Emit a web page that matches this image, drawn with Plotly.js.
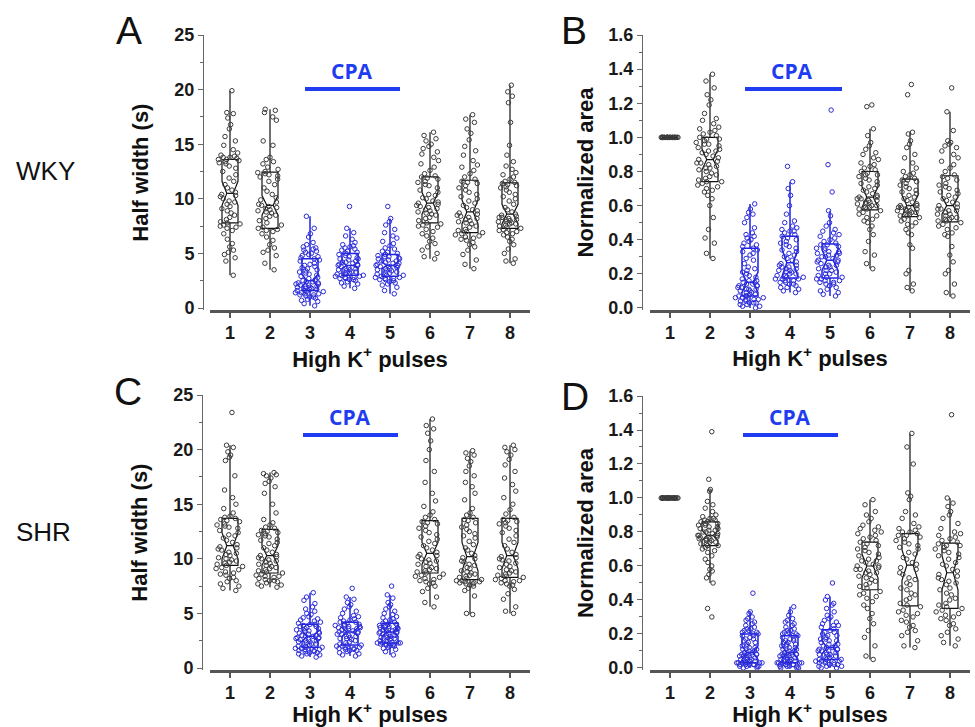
<!DOCTYPE html>
<html>
<head>
<meta charset="utf-8">
<script src="https://cdn.plot.ly/plotly-3.0.1.min.js"></script>
<style>html,body{margin:0;padding:0;background:#fff;}#chart{width:975px;height:727px;}</style>
</head>
<body>
<div id="chart"></div>
<script>
// ---------- categories / ticks ----------
const pulses = [1, 2, 3, 4, 5, 6, 7, 8];
const cpaPulses = [3, 4, 5];
const panelLetters = ['A', 'B', 'C', 'D'];
const rowLabels = ['WKY', 'SHR'];
const yTitleHalf = 'Half width (s)';
const yTitleArea = 'Normalized area';
const xTitle = 'High K<sup>+</sup> pulses';
const cpaLabel = 'CPA';

// ---------- Panel A: WKY half width (s) ----------
const A1 = [3.0,4.3,4.6,4.9,5.1,5.3,5.6,5.9,6.3,6.8,7.1,7.3,7.4,7.5,7.6,7.7,
  7.8,7.9,8.1,8.3,8.5,8.7,8.9,9.1,9.3,9.5,9.7,9.8,10.0,10.2,10.3,10.4,
  10.6,10.8,11.0,11.3,11.6,11.9,12.2,12.5,12.8,13.0,13.2,13.3,13.4,13.5,13.6,13.6,
  13.7,13.8,13.8,13.9,14.0,14.2,14.5,14.9,15.3,15.7,16.4,16.8,17.4,17.8,17.9,19.9];
const A2 = [3.5,4.1,4.8,5.1,5.3,5.5,5.8,6.2,6.5,6.8,7.0,7.1,7.2,7.3,
  7.4,7.6,7.8,8.0,8.2,8.4,8.5,8.7,8.8,8.9,9.0,9.1,9.2,9.3,9.4,
  9.5,9.7,9.9,10.1,10.4,10.7,11.0,11.3,11.6,11.8,12.0,12.1,12.2,12.3,12.4,
  12.5,12.7,12.9,13.2,13.4,13.6,13.8,14.9,15.3,17.2,17.5,17.9,18.1,18.2];
const A3 = [0.2,0.4,0.6,0.7,0.8,0.9,1.0,1.0,1.1,1.2,1.2,1.3,1.3,1.4,1.4,1.5,1.5,1.6,
  1.6,1.7,1.7,1.8,1.8,1.9,1.9,2.0,2.0,2.1,2.1,2.2,2.2,2.3,2.3,2.4,2.4,2.5,
  2.6,2.7,2.8,2.9,3.0,3.1,3.2,3.3,3.4,3.5,3.6,3.7,3.8,3.9,4.0,4.1,4.3,4.4,
  4.5,4.6,4.7,4.8,4.9,5.0,5.1,5.2,5.3,5.4,5.5,5.6,5.8,6.0,6.5,6.8,7.3,8.4];
const A4 = [1.8,2.0,2.2,2.3,2.4,2.5,2.6,2.6,2.7,2.7,2.8,2.8,2.9,2.9,3.0,
  3.0,3.1,3.1,3.2,3.2,3.3,3.3,3.4,3.5,3.5,3.6,3.6,3.7,3.8,3.9,
  3.9,4.0,4.0,4.1,4.2,4.2,4.3,4.4,4.5,4.5,4.6,4.7,4.8,4.9,5.0,
  5.1,5.2,5.3,5.4,5.5,5.6,5.7,5.8,6.0,6.3,6.6,6.9,7.3,9.3];
const A5 = [1.3,1.6,1.9,2.1,2.2,2.3,2.4,2.5,2.6,2.6,2.7,2.7,2.8,2.8,2.9,
  3.0,3.0,3.1,3.2,3.2,3.3,3.4,3.4,3.5,3.6,3.6,3.7,3.8,3.8,3.9,
  3.9,4.0,4.1,4.1,4.2,4.3,4.3,4.4,4.5,4.5,4.6,4.7,4.7,4.8,4.9,
  5.0,5.1,5.2,5.4,5.5,5.7,5.9,6.1,6.4,6.6,6.9,7.2,7.6,7.9,8.2,9.3];
const A6 = [4.5,4.7,5.0,5.3,5.6,5.9,6.1,6.4,6.6,6.8,7.0,7.2,7.4,7.5,7.6,7.7,
  7.8,8.0,8.2,8.3,8.5,8.6,8.7,8.8,8.9,9.0,9.1,9.2,9.3,9.4,9.5,9.6,
  9.7,9.8,10.0,10.1,10.3,10.4,10.6,10.8,11.0,11.2,11.3,11.5,11.6,11.8,11.9,12.0,
  12.1,12.3,12.6,12.9,13.2,13.5,13.8,14.1,14.3,14.6,14.8,15.0,15.3,15.5,15.8,16.1];
const A7 = [3.6,4.0,4.4,4.9,5.3,5.6,5.8,6.0,6.2,6.3,6.4,6.5,6.6,6.7,6.8,6.9,
  7.0,7.1,7.2,7.4,7.5,7.7,7.8,7.9,8.0,8.1,8.2,8.3,8.4,8.5,8.6,8.7,
  8.9,9.0,9.2,9.4,9.6,9.8,10.0,10.2,10.4,10.6,10.8,11.0,11.2,11.4,11.5,11.6,
  11.8,12.0,12.3,12.6,12.9,13.1,13.5,14.0,14.4,14.8,15.4,16.0,16.4,17.0,17.3,17.7];
const A8 = [4.1,4.3,4.5,5.0,5.4,5.8,6.1,6.3,6.5,6.7,6.8,6.9,7.0,7.1,7.2,7.3,
  7.4,7.5,7.6,7.7,7.7,7.8,7.9,7.9,8.0,8.1,8.1,8.2,8.3,8.3,8.4,8.5,
  8.6,8.8,9.0,9.2,9.5,9.8,10.0,10.2,10.4,10.6,10.8,11.0,11.1,11.2,11.3,11.4,
  11.5,11.6,11.8,12.0,12.2,12.4,12.7,13.0,13.4,14.0,14.9,17.0,18.8,19.4,19.8,20.4];
const A_q1 = [7.8, 7.3, 1.6, 3.0, 2.9, 7.8, 6.9, 7.3];
const A_med = [10.5, 9.4, 2.5, 3.9, 3.9, 9.6, 8.8, 8.6];
const A_q3 = [13.6, 12.45, 4.5, 5.0, 4.9, 12.0, 11.7, 11.45];
const A_lo = [3.0, 3.5, 0.2, 1.8, 1.3, 4.5, 3.6, 4.1];
const A_hi = [19.9, 18.2, 8.4, 7.3, 8.2, 16.1, 17.7, 20.4];
const A_notch = [1.1, 0.9, 0.6, 0.3, 0.3, 1.0, 1.1, 0.9];

// ---------- Panel B: WKY normalized area ----------
const B1 = [1,1,1,1,1,1,1,1,1,1,1,1,1,1,1,1,1,1,1,1,1,1,1,1];
const B2 = [0.29,0.32,0.38,0.41,0.46,0.53,0.60,0.64,0.66,0.68,0.69,0.70,0.71,0.72,0.73,0.74,
  0.74,0.75,0.76,0.77,0.78,0.79,0.80,0.81,0.82,0.82,0.83,0.84,0.85,0.85,0.86,0.87,
  0.88,0.89,0.90,0.91,0.92,0.92,0.93,0.94,0.95,0.96,0.96,0.97,0.98,0.99,0.99,1.00,
  1.01,1.02,1.03,1.04,1.05,1.06,1.08,1.10,1.11,1.14,1.19,1.22,1.25,1.29,1.33,1.37];
const B3 = [0.00,0.01,0.01,0.02,0.02,0.03,0.03,0.03,0.04,0.04,0.05,0.05,0.05,0.06,0.06,0.06,0.07,0.07,
  0.07,0.08,0.08,0.09,0.09,0.10,0.10,0.11,0.11,0.11,0.12,0.12,0.13,0.13,0.13,0.14,0.14,0.15,
  0.15,0.16,0.16,0.17,0.18,0.19,0.20,0.21,0.22,0.23,0.24,0.26,0.28,0.29,0.31,0.32,0.33,0.34,
  0.35,0.36,0.37,0.38,0.39,0.40,0.41,0.42,0.43,0.44,0.47,0.50,0.53,0.55,0.56,0.58,0.61];
const B4 = [0.09,0.10,0.11,0.12,0.12,0.13,0.14,0.14,0.15,0.15,0.16,0.16,0.17,0.17,0.17,0.18,
  0.18,0.19,0.19,0.20,0.20,0.21,0.21,0.22,0.22,0.23,0.23,0.24,0.24,0.25,0.25,0.26,
  0.27,0.28,0.29,0.30,0.31,0.32,0.33,0.34,0.35,0.36,0.37,0.38,0.39,0.40,0.41,0.42,
  0.43,0.44,0.45,0.45,0.46,0.47,0.48,0.50,0.51,0.55,0.60,0.66,0.70,0.74,0.83];
const B5 = [0.07,0.08,0.09,0.10,0.11,0.12,0.13,0.14,0.14,0.15,0.15,0.16,0.16,0.17,0.17,0.18,
  0.18,0.19,0.20,0.20,0.21,0.22,0.22,0.23,0.24,0.24,0.25,0.25,0.26,0.27,0.27,0.28,
  0.28,0.29,0.30,0.30,0.31,0.31,0.32,0.32,0.33,0.33,0.34,0.35,0.35,0.36,0.37,0.37,
  0.38,0.39,0.40,0.41,0.42,0.43,0.44,0.45,0.46,0.48,0.50,0.54,0.57,0.68,0.84,1.16];
const B6 = [0.23,0.26,0.31,0.33,0.39,0.43,0.46,0.48,0.50,0.51,0.52,0.53,0.54,0.55,0.56,0.57,
  0.58,0.58,0.59,0.59,0.60,0.60,0.61,0.61,0.62,0.62,0.63,0.63,0.64,0.64,0.65,0.65,
  0.66,0.67,0.68,0.69,0.70,0.71,0.72,0.73,0.74,0.75,0.76,0.77,0.78,0.78,0.79,0.80,
  0.81,0.82,0.83,0.84,0.85,0.87,0.88,0.90,0.91,0.93,0.95,0.97,1.01,1.05,1.18,1.19];
const B7 = [0.10,0.12,0.14,0.20,0.22,0.35,0.37,0.43,0.44,0.46,0.48,0.49,0.50,0.51,0.52,0.53,
  0.54,0.54,0.55,0.55,0.56,0.56,0.57,0.57,0.57,0.58,0.58,0.59,0.59,0.59,0.60,0.60,
  0.61,0.62,0.63,0.64,0.65,0.66,0.67,0.68,0.69,0.70,0.71,0.72,0.73,0.74,0.75,0.75,
  0.76,0.77,0.78,0.79,0.80,0.82,0.85,0.88,0.90,0.94,0.96,0.98,1.02,1.03,1.25,1.31];
const B8 = [0.07,0.09,0.14,0.20,0.22,0.27,0.31,0.36,0.42,0.43,0.44,0.46,0.47,0.48,0.49,0.50,
  0.51,0.51,0.52,0.52,0.53,0.53,0.54,0.55,0.55,0.56,0.57,0.57,0.58,0.58,0.59,0.60,
  0.61,0.62,0.63,0.64,0.65,0.66,0.67,0.68,0.69,0.70,0.71,0.72,0.73,0.75,0.76,0.77,
  0.78,0.80,0.82,0.84,0.86,0.88,0.90,0.92,0.94,0.95,0.96,0.97,0.98,1.04,1.15,1.29];
const B_q1 = [1, 0.74, 0.07, 0.175, 0.175, 0.575, 0.535, 0.505];
const B_med = [1, 0.87, 0.15, 0.265, 0.28, 0.65, 0.60, 0.60];
const B_q3 = [1, 1.0, 0.35, 0.42, 0.375, 0.80, 0.755, 0.775];
const B_lo = [1, 0.29, 0.0, 0.09, 0.07, 0.23, 0.10, 0.065];
const B_hi = [1, 1.37, 0.61, 0.74, 0.57, 1.05, 1.03, 1.15];
const B_notch = [0, 0.06, 0.06, 0.08, 0.06, 0.06, 0.06, 0.05];

// ---------- Panel C: SHR half width (s) ----------
const C1 = [7.1,7.3,7.5,7.7,7.9,8.0,8.2,8.3,8.5,8.6,8.7,8.8,9.0,9.1,9.2,9.3,
  9.4,9.5,9.6,9.7,9.8,9.9,10.0,10.1,10.3,10.4,10.5,10.6,10.8,10.9,11.0,11.1,
  11.3,11.5,11.7,11.9,12.1,12.2,12.4,12.6,12.8,12.9,13.0,13.1,13.2,13.4,13.5,13.6,
  13.7,13.8,13.9,14.2,14.6,15.0,15.6,16.3,17.6,19.0,19.3,19.5,19.8,20.2,20.4,23.4];
const C2 = [7.4,7.5,7.6,7.7,7.8,7.9,8.0,8.0,8.1,8.2,8.3,8.4,8.4,8.5,8.6,8.7,
  8.8,8.9,9.0,9.1,9.2,9.3,9.4,9.5,9.6,9.7,9.8,9.9,10.0,10.1,10.2,10.3,
  10.4,10.6,10.8,11.0,11.2,11.4,11.5,11.7,11.8,12.0,12.1,12.2,12.3,12.4,12.5,12.6,
  12.8,12.9,13.1,13.3,13.6,14.2,15.0,16.0,16.6,16.9,17.1,17.4,17.6,17.7,17.8,17.9];
const C3 = [1.0,1.1,1.2,1.3,1.3,1.4,1.4,1.5,1.5,1.6,1.6,1.7,1.7,1.8,1.8,1.9,1.9,
  2.0,2.0,2.1,2.2,2.2,2.3,2.4,2.4,2.5,2.5,2.6,2.6,2.7,2.7,2.8,2.8,2.9,
  2.9,3.0,3.0,3.1,3.2,3.2,3.3,3.4,3.4,3.5,3.6,3.6,3.7,3.8,3.8,3.9,4.0,
  4.0,4.1,4.2,4.3,4.4,4.5,4.6,4.7,4.9,5.0,5.2,5.4,5.6,5.9,6.2,6.5,6.9];
const C4 = [1.1,1.2,1.3,1.4,1.5,1.6,1.6,1.7,1.7,1.8,1.8,1.9,1.9,2.0,2.0,2.1,
  2.1,2.2,2.3,2.4,2.5,2.6,2.7,2.7,2.8,2.9,2.9,3.0,3.1,3.1,3.2,3.3,
  3.3,3.4,3.4,3.5,3.6,3.6,3.7,3.7,3.8,3.8,3.9,3.9,4.0,4.0,4.1,4.2,
  4.2,4.3,4.4,4.5,4.6,4.7,4.8,5.0,5.2,5.4,5.6,5.8,6.0,6.3,6.5,7.3];
const C5 = [1.2,1.5,1.7,1.8,1.9,2.0,2.0,2.1,2.1,2.2,2.2,2.2,2.3,2.3,2.3,2.3,
  2.4,2.5,2.5,2.6,2.7,2.7,2.8,2.8,2.9,3.0,3.0,3.1,3.1,3.2,3.2,3.3,
  3.3,3.4,3.4,3.5,3.5,3.6,3.6,3.7,3.7,3.8,3.8,3.9,3.9,4.0,4.0,4.1,
  4.2,4.3,4.4,4.5,4.6,4.7,4.9,5.0,5.2,5.4,5.6,5.8,6.0,6.4,6.7,7.5];
const C6 = [5.6,6.0,6.5,7.0,7.3,7.5,7.7,7.8,7.9,8.0,8.1,8.2,8.3,8.4,8.5,8.6,
  8.7,8.8,8.9,9.0,9.1,9.2,9.3,9.5,9.6,9.7,9.8,9.9,10.0,10.2,10.3,10.4,
  10.6,10.8,11.0,11.2,11.4,11.6,11.8,12.0,12.2,12.4,12.6,12.8,13.0,13.2,13.3,13.4,
  13.6,13.8,14.0,14.3,14.8,15.3,16.0,17.0,18.0,19.0,20.0,20.8,21.5,21.9,22.2,22.8];
const C7 = [4.9,5.0,6.6,7.1,7.3,7.5,7.6,7.7,7.7,7.8,7.8,7.9,7.9,8.0,8.0,8.1,
  8.2,8.3,8.4,8.5,8.6,8.7,8.8,8.9,9.1,9.2,9.4,9.5,9.7,9.8,10.0,10.1,
  10.3,10.5,10.8,11.0,11.3,11.6,11.9,12.1,12.3,12.5,12.7,12.9,13.1,13.3,13.5,13.6,
  13.8,14.0,14.2,14.6,15.4,16.0,16.6,17.0,17.6,18.0,18.5,18.9,19.2,19.5,19.7,19.9];
const C8 = [5.0,5.2,5.6,6.3,6.8,7.2,7.5,7.6,7.7,7.8,7.9,8.0,8.0,8.1,8.2,8.3,
  8.4,8.5,8.6,8.7,8.8,8.9,9.0,9.2,9.3,9.5,9.6,9.8,9.9,10.0,10.1,10.2,
  10.4,10.6,10.9,11.2,11.5,11.8,12.1,12.4,12.6,12.8,13.0,13.2,13.3,13.4,13.5,13.6,
  13.8,14.1,14.5,15.0,15.6,16.2,16.8,17.4,18.0,18.6,19.1,19.5,19.8,20.0,20.2,20.4];
const C_q1 = [9.4, 8.7, 1.9, 2.1, 2.3, 8.7, 8.1, 8.3];
const C_med = [11.2, 10.3, 2.9, 3.3, 3.3, 10.5, 10.2, 10.3];
const C_q3 = [13.7, 12.7, 4.0, 4.2, 4.1, 13.5, 13.7, 13.7];
const C_lo = [7.1, 7.4, 1.0, 1.1, 1.2, 5.6, 4.9, 5.0];
const C_hi = [20.4, 17.9, 6.9, 6.5, 6.7, 22.8, 19.9, 20.4];
const C_notch = [1.2, 0.9, 0.5, 0.4, 0.4, 1.0, 1.3, 1.2];

// ---------- Panel D: SHR normalized area ----------
const D1 = [1,1,1,1,1,1,1,1,1,1,1,1,1,1,1,1,1,1,1,1,1,1,1,1];
const D2 = [0.30,0.35,0.50,0.53,0.55,0.57,0.58,0.60,0.62,0.64,0.66,0.68,0.69,0.70,0.71,0.72,
  0.72,0.73,0.73,0.74,0.74,0.75,0.75,0.76,0.76,0.76,0.77,0.77,0.77,0.78,0.78,0.78,
  0.79,0.79,0.80,0.80,0.81,0.81,0.82,0.82,0.83,0.83,0.84,0.84,0.85,0.85,0.86,0.86,
  0.87,0.87,0.88,0.88,0.89,0.90,0.92,0.94,0.96,0.98,1.04,1.05,1.11,1.39];
const D3 = [0.00,0.00,0.01,0.01,0.01,0.01,0.02,0.02,0.02,0.02,0.02,0.03,0.03,0.03,0.03,0.03,0.03,0.03,
  0.04,0.04,0.04,0.05,0.05,0.05,0.06,0.06,0.06,0.07,0.07,0.07,0.08,0.08,0.08,0.09,0.09,0.09,
  0.10,0.10,0.11,0.11,0.12,0.12,0.13,0.13,0.14,0.15,0.15,0.16,0.17,0.17,0.18,0.19,0.19,0.20,
  0.20,0.21,0.21,0.22,0.22,0.23,0.23,0.24,0.25,0.26,0.27,0.28,0.29,0.30,0.32,0.33,0.44];
const D4 = [0.00,0.00,0.00,0.01,0.01,0.01,0.01,0.02,0.02,0.02,0.02,0.02,0.03,0.03,0.03,0.03,0.03,0.03,
  0.04,0.04,0.04,0.05,0.05,0.05,0.06,0.06,0.06,0.07,0.07,0.07,0.08,0.08,0.08,0.09,0.09,0.09,
  0.10,0.10,0.11,0.11,0.12,0.12,0.13,0.13,0.14,0.14,0.15,0.15,0.16,0.16,0.17,0.17,0.18,0.19,
  0.19,0.20,0.20,0.21,0.21,0.22,0.22,0.23,0.24,0.25,0.26,0.27,0.28,0.29,0.31,0.33,0.36];
const D5 = [0.00,0.00,0.01,0.01,0.01,0.02,0.02,0.02,0.03,0.03,0.03,0.04,0.04,0.04,0.04,0.05,0.05,
  0.05,0.06,0.06,0.07,0.07,0.08,0.08,0.08,0.09,0.09,0.10,0.10,0.10,0.11,0.11,0.11,0.12,
  0.12,0.13,0.13,0.14,0.14,0.15,0.16,0.16,0.17,0.17,0.18,0.19,0.19,0.20,0.21,0.21,0.22,
  0.23,0.24,0.25,0.25,0.26,0.27,0.28,0.29,0.30,0.31,0.33,0.35,0.37,0.38,0.40,0.42,0.50];
const D6 = [0.05,0.07,0.13,0.18,0.22,0.26,0.29,0.32,0.35,0.37,0.39,0.41,0.42,0.43,0.44,0.45,
  0.47,0.48,0.49,0.50,0.51,0.52,0.53,0.54,0.55,0.56,0.56,0.57,0.58,0.58,0.59,0.60,
  0.60,0.61,0.62,0.63,0.63,0.64,0.65,0.66,0.67,0.68,0.69,0.70,0.71,0.72,0.73,0.74,
  0.75,0.76,0.77,0.78,0.79,0.80,0.81,0.82,0.83,0.84,0.86,0.88,0.90,0.92,0.96,0.99];
const D7 = [0.12,0.13,0.16,0.19,0.21,0.22,0.24,0.25,0.27,0.28,0.30,0.31,0.32,0.33,0.34,0.36,
  0.37,0.38,0.40,0.41,0.43,0.44,0.46,0.47,0.49,0.50,0.52,0.53,0.55,0.56,0.58,0.59,
  0.61,0.62,0.64,0.65,0.67,0.68,0.70,0.71,0.72,0.73,0.74,0.75,0.76,0.77,0.78,0.78,
  0.79,0.80,0.80,0.81,0.82,0.83,0.85,0.88,0.90,0.92,0.99,1.01,1.03,1.20,1.30,1.38];
const D8 = [0.13,0.15,0.17,0.19,0.21,0.23,0.25,0.26,0.28,0.29,0.30,0.31,0.32,0.33,0.34,0.35,
  0.36,0.37,0.38,0.40,0.41,0.43,0.44,0.46,0.47,0.49,0.50,0.51,0.52,0.53,0.54,0.55,
  0.57,0.58,0.60,0.61,0.62,0.64,0.65,0.66,0.67,0.68,0.69,0.70,0.71,0.72,0.72,0.73,
  0.74,0.75,0.76,0.77,0.78,0.79,0.80,0.82,0.85,0.88,0.90,0.92,0.95,0.97,1.00,1.49];
const D_q1 = [1, 0.72, 0.03, 0.03, 0.05, 0.46, 0.365, 0.35];
const D_med = [1, 0.78, 0.09, 0.09, 0.12, 0.60, 0.605, 0.56];
const D_q3 = [1, 0.86, 0.20, 0.19, 0.225, 0.74, 0.79, 0.735];
const D_lo = [1, 0.50, 0.0, 0.0, 0.0, 0.05, 0.12, 0.13];
const D_hi = [1, 1.05, 0.33, 0.36, 0.42, 0.99, 1.38, 1.0];
const D_notch = [0, 0.03, 0.04, 0.04, 0.04, 0.07, 0.09, 0.10];

// ---------- styling ----------
const W = 975, H = 727;
const px = v => v / W;
const py = v => 1 - v / H;
const BLACK_BOX = '#111111';
const BLACK_PT = '#3a3a3a';
const BLUE_BOX = '#1e22e6';
const BLUE_PT = '#2a2ad8';
const CPA_BLUE = '#1f3cf0';
const AXIS_GRAY = '#555555';
const FONT = 'Liberation Sans, Arial, sans-serif';

const panels = [
  {key: 'A', xa: 'x', ya: 'y', pts: [A1,A2,A3,A4,A5,A6,A7,A8], q1: A_q1, med: A_med, q3: A_q3, lo: A_lo, hi: A_hi, notch: A_notch},
  {key: 'B', xa: 'x2', ya: 'y2', pts: [B1,B2,B3,B4,B5,B6,B7,B8], q1: B_q1, med: B_med, q3: B_q3, lo: B_lo, hi: B_hi, notch: B_notch},
  {key: 'C', xa: 'x3', ya: 'y3', pts: [C1,C2,C3,C4,C5,C6,C7,C8], q1: C_q1, med: C_med, q3: C_q3, lo: C_lo, hi: C_hi, notch: C_notch},
  {key: 'D', xa: 'x4', ya: 'y4', pts: [D1,D2,D3,D4,D5,D6,D7,D8], q1: D_q1, med: D_med, q3: D_q3, lo: D_lo, hi: D_hi, notch: D_notch}
];

const traces = [];
panels.forEach(p => {
  pulses.forEach((g, i) => {
    const cpa = cpaPulses.includes(g);
    // box (pre-computed statistics)
    traces.push({
      type: 'box', xaxis: p.xa, yaxis: p.ya,
      x: [g], q1: [p.q1[i]], median: [p.med[i]], q3: [p.q3[i]],
      lowerfence: [p.lo[i]], upperfence: [p.hi[i]],
      notchspan: [p.notch[i]], notched: p.notch[i] > 0, notchwidth: 0.3,
      boxpoints: false, width: 0.4, whiskerwidth: 0,
      line: {color: cpa ? BLUE_BOX : BLACK_BOX, width: cpa ? 1.5 : 1.2},
      fillcolor: 'rgba(0,0,0,0)', hoverinfo: 'skip'
    });
    // individual points, jittered by the library
    traces.push({
      type: 'box', xaxis: p.xa, yaxis: p.ya,
      x0: g, y: p.pts[i],
      boxpoints: 'all', jitter: g === 1 && p.notch[0] === 0 ? 0.6 : 1, pointpos: 0, width: 0.75,
      line: {color: 'rgba(0,0,0,0)', width: 0}, fillcolor: 'rgba(0,0,0,0)',
      marker: {symbol: 'circle-open', size: 4.5, color: cpa ? BLUE_PT : BLACK_PT,
               line: {width: 1, color: cpa ? BLUE_PT : BLACK_PT}},
      hoverinfo: 'skip'
    });
  });
});

const titleFont = {family: FONT, size: 22, color: '#111', weight: 'bold'};

function xAxis(domain, anchor) {
  return {
    domain: domain, anchor: anchor, range: [0.5, 8.5],
    tickmode: 'array', tickvals: pulses, ticktext: pulses.map(String),
    ticks: 'outside', ticklen: 5, tickwidth: 1.5, tickcolor: AXIS_GRAY,
    showline: true, linecolor: AXIS_GRAY, linewidth: 2.5,
    showgrid: false, zeroline: false, automargin: false,
    tickfont: {family: FONT, size: 18, color: '#1a1a1a', weight: 'bold'},
    title: {text: xTitle, font: titleFont, standoff: 2}
  };
}
function yAxis(domain, range, dtick, minorDtick, fmt, pos, title, standoff) {
  return {
    domain: domain, range: range, anchor: 'free', position: pos,
    tick0: 0, dtick: dtick, tickformat: fmt,
    ticks: 'outside', ticklen: 5, tickwidth: 1, tickcolor: '#666',
    minor: {dtick: minorDtick, tick0: 0, ticks: 'outside', ticklen: 3, tickcolor: '#666', tickwidth: 1},
    showline: true, linecolor: '#666', linewidth: 1,
    showgrid: false, zeroline: false, automargin: false,
    tickfont: {family: FONT, size: 18, color: '#1a1a1a', weight: 'bold'},
    title: {text: title, font: titleFont, standoff: standoff}
  };
}

const domXL = [px(210), px(530)];
const domXR = [px(650), px(970)];
const domYTop = [py(310.2), py(35)];
const domYTopB = [py(310), py(35)];
const domYBotC = [py(670.2), py(395)];
const domYBotD = [py(670), py(396)];

const layout = {
  width: W, height: H, margin: {l: 0, r: 0, t: 0, b: 0},
  paper_bgcolor: '#fff', plot_bgcolor: 'rgba(0,0,0,0)',
  showlegend: false, boxmode: 'overlay', hovermode: false,
  xaxis: xAxis(domXL, 'y'),
  xaxis2: xAxis(domXR, 'y2'),
  xaxis3: xAxis(domXL, 'y3'),
  xaxis4: xAxis(domXR, 'y4'),
  yaxis: yAxis(domYTop, [-0.2, 25], 5, 2.5, 'd', px(203), yTitleHalf, 18),
  yaxis2: yAxis(domYTopB, [-0.012, 1.6], 0.2, 0.1, '.1f', px(642), yTitleArea, 7),
  yaxis3: yAxis(domYBotC, [-0.2, 25], 5, 2.5, 'd', px(202), yTitleHalf, 18),
  yaxis4: yAxis(domYBotD, [-0.012, 1.6], 0.2, 0.1, '.1f', px(642), yTitleArea, 7),
  annotations: [],
  shapes: []
};

function ann(text, x, y, size, opts) {
  layout.annotations.push(Object.assign({
    text: text, xref: 'paper', yref: 'paper', x: px(x), y: py(y),
    xanchor: 'center', yanchor: 'middle', showarrow: false,
    font: {family: FONT, size: size, color: '#111'}
  }, opts || {}));
}

// panel letters
[[129, 31], [574, 30], [128, 391], [575, 396]].forEach((c, i) => ann(panelLetters[i], c[0], c[1], 39));
// row labels
ann(rowLabels[0], 45, 171, 26);
ann(rowLabels[1], 43, 532, 26);
// CPA labels and bars
const cpaFont = {family: 'Open Sans, Liberation Sans, sans-serif', size: 21, color: CPA_BLUE, weight: 'bold'};
[[352, 71, 305, 400, 89], [792, 71, 745, 842, 89], [350, 417, 303, 398, 435], [790, 417, 743, 838, 435]].forEach(c => {
  ann(cpaLabel, c[0], c[1], 21, {font: cpaFont});
  layout.shapes.push({type: 'line', xref: 'paper', yref: 'paper',
    x0: px(c[2]), x1: px(c[3]), y0: py(c[4]), y1: py(c[4]),
    line: {color: CPA_BLUE, width: 4}});
});

Plotly.newPlot('chart', traces, layout, {staticPlot: true, displayModeBar: false});
</script>
</body>
</html>
